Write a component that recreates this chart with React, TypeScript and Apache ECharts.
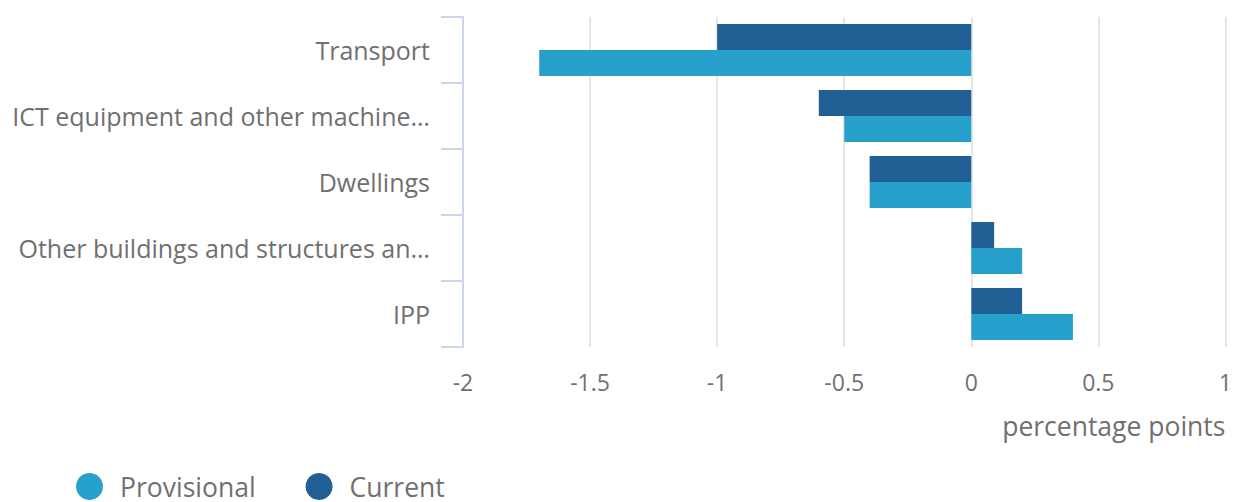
import React, { useEffect, useRef } from "react";
import * as echarts from "echarts";

const categories = [
  "Transport",
  "ICT equipment and other machine…",
  "Dwellings",
  "Other buildings and structures an…",
  "IPP",
];
const currentValues = [-1.0, -0.6, -0.4, 0.09, 0.2];
const provisionalValues = [-1.7, -0.5, -0.4, 0.2, 0.4];
const xTicks = { min: -2, max: 1, interval: 0.5 };

const TEXT = "#707070";
const FONT = "'Open Sans', sans-serif";

export default function App() {
  const ref = useRef<HTMLDivElement>(null);
  useEffect(() => {
    document.body.style.margin = "0";
    const chart = echarts.init(ref.current!, null, { renderer: "svg" });
    chart.setOption({
      animation: false,
      textStyle: { fontFamily: FONT },
      grid: { left: 463, right: 3, top: 17, bottom: 155, containLabel: false },
      legend: {
        left: 76,
        top: 473,
        padding: 0,
        icon: "circle",
        itemWidth: 27,
        itemHeight: 27,
        itemGap: 50,
        data: ["Provisional", "Current"],
        textStyle: { color: TEXT, fontSize: 26.5, fontFamily: FONT, padding: [6, 0, 0, 12] },
      },
      xAxis: {
        type: "value",
        min: xTicks.min,
        max: xTicks.max,
        interval: xTicks.interval,
        axisLine: { show: false },
        axisTick: { show: false },
        splitLine: { lineStyle: { color: "#e6e6e6", width: 2 } },
        axisLabel: { color: TEXT, fontSize: 23, fontFamily: FONT, margin: 23 },
        name: "percentage points",
        nameLocation: "end",
        nameGap: 0,
        nameTextStyle: {
          color: TEXT,
          fontSize: 26.5,
          fontFamily: FONT,
          align: "right",
          verticalAlign: "top",
          padding: [65, 0, 0, 0],
        },
      },
      yAxis: {
        type: "category",
        inverse: true,
        data: categories,
        axisLine: { onZero: false, lineStyle: { color: "#ccd6eb", width: 2 } },
        axisTick: { show: true, length: 22, lineStyle: { color: "#ccd6eb", width: 2 } },
        axisLabel: { color: TEXT, fontSize: 25, fontFamily: FONT, margin: 33, padding: [4, 0, 0, 0] },
        splitLine: { show: false },
      },
      series: [
        {
          name: "Current",
          type: "bar",
          data: currentValues,
          barWidth: 26,
          barGap: "0%",
          itemStyle: { color: "#206095" },
        },
        {
          name: "Provisional",
          type: "bar",
          data: provisionalValues,
          barWidth: 26,
          barGap: "0%",
          itemStyle: { color: "#27a0cc" },
        },
      ],
    });
    return () => chart.dispose();
  }, []);
  return <div ref={ref} style={{ width: 1235, height: 502 }} />;
}
